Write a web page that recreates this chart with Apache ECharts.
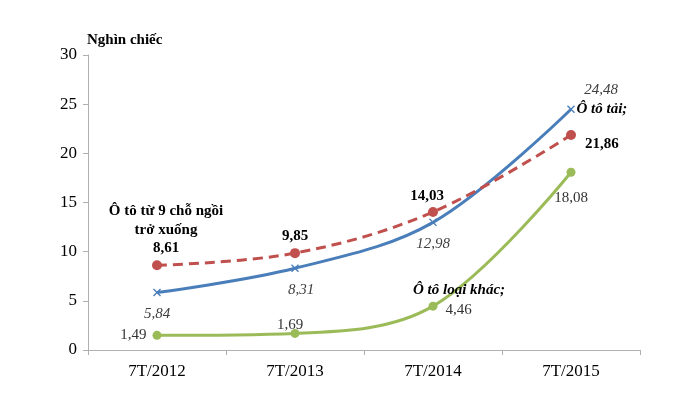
<!DOCTYPE html>
<html><head><meta charset="utf-8">
<script src="https://cdn.jsdelivr.net/npm/echarts@6/dist/echarts.min.js"></script>
<style>html,body{margin:0;padding:0;background:#fff}#c{width:700px;height:393px}</style>
</head><body><div id="c"></div>
<script>
const categories = ['7T/2012', '7T/2013', '7T/2014', '7T/2015'];
const seatCars = [8.61, 9.85, 14.03, 21.86];   // Ô tô từ 9 chỗ ngồi trở xuống
const trucks = [5.84, 8.31, 12.98, 24.48];     // Ô tô tải
const otherCars = [1.49, 1.69, 4.46, 18.08];   // Ô tô loại khác
const yTicks = [0, 5, 10, 15, 20, 25, 30];

const F = '"Liberation Serif", "Times New Roman", serif';
const fmt = v => String(v.toFixed(2)).replace('.', ',');
const crossPath = 'path://M0,1.2L1.2,0L5,3.8L8.8,0L10,1.2L6.2,5L10,8.8L8.8,10L5,6.2L1.2,10L0,8.8L3.8,5Z';

const chart = echarts.init(document.getElementById('c'), null, {renderer: 'canvas'});
chart.setOption({
  animation: false,
  title: {text: 'Nghìn chiếc', left: 82, top: 28,
    textStyle: {fontFamily: F, fontSize: 15, fontWeight: 'bold', color: '#000'}},
  grid: {left: 88, right: 60, top: 55, bottom: 43},
  xAxis: {
    type: 'category', data: categories, boundaryGap: true,
    axisLine: {lineStyle: {color: '#b0b0b0', width: 1}},
    axisTick: {show: true, length: 5, lineStyle: {color: '#b0b0b0'}},
    axisLabel: {fontFamily: F, fontSize: 17, color: '#000', margin: 13}
  },
  yAxis: {
    type: 'value', min: yTicks[0], max: yTicks[yTicks.length - 1], interval: yTicks[1] - yTicks[0],
    axisLine: {show: true, lineStyle: {color: '#b0b0b0', width: 1}},
    axisTick: {show: true, length: 5, lineStyle: {color: '#b0b0b0'}},
    splitLine: {show: false},
    axisLabel: {fontFamily: F, fontSize: 17, color: '#000', margin: 11}
  },
  series: [
    {
      name: 'Ô tô từ 9 chỗ ngồi trở xuống', type: 'line', smooth: 0.35,
      data: seatCars.map((v, i) => {
        const d = {value: v};
        if (i === 0) d.label = {position: 'top', distance: 3, offset: [9, 0],
          formatter: p => '{n|Ô tô từ 9 chỗ ngồi}\n{n|trở xuống}\n{v|' + fmt(p.value) + '}'};
        if (i === 1) d.label = {position: 'top', distance: 5};
        if (i === 2) d.label = {position: 'top', distance: 3, offset: [-6, 0]};
        if (i === 3) d.label = {position: 'right', distance: 5, offset: [4, 9]};
        return d;
      }),
      symbol: 'circle', symbolSize: 10,
      lineStyle: {color: '#c0504d', width: 3, type: [10, 6]},
      itemStyle: {color: '#c0504d'},
      label: {show: true, position: 'top', distance: 5, fontFamily: F, fontSize: 15, fontWeight: 'bold', color: '#000',
        formatter: p => fmt(p.value),
        rich: {
          n: {fontFamily: F, fontSize: 15, fontWeight: 'bold', color: '#000', lineHeight: 19, align: 'center'},
          v: {fontFamily: F, fontSize: 15, fontWeight: 'bold', color: '#000', lineHeight: 18, align: 'center'}
        }},
      z: 3
    },
    {
      name: 'Ô tô tải', type: 'line', smooth: 0.35,
      data: trucks.map((v, i) => {
        const d = {value: v};
        if (i === 1) d.label = {position: 'bottom', distance: 10, offset: [6, 0]};
        if (i === 3) d.label = {position: 'top', offset: [30, -4], distance: 4};
        return d;
      }),
      symbol: crossPath, symbolSize: 8,
      lineStyle: {color: '#4a7ebb', width: 3},
      itemStyle: {color: '#4a7ebb'},
      label: {show: true, position: 'bottom', distance: 10, fontFamily: F, fontSize: 15, fontStyle: 'italic', color: '#404040',
        formatter: p => fmt(p.value)},
      markPoint: {
        symbol: 'circle', symbolSize: 1, itemStyle: {color: 'rgba(0,0,0,0)'},
        label: {show: true, position: 'right', distance: 5, formatter: 'Ô tô tải;',
          fontFamily: F, fontSize: 15, fontStyle: 'italic', fontWeight: 'bold', color: '#000'},
        data: [{coord: [categories[3], trucks[3]]}]
      },
      z: 2
    },
    {
      name: 'Ô tô loại khác', type: 'line', smooth: 0.35,
      data: otherCars.map((v, i) => {
        const d = {value: v};
        if (i === 0) d.label = {position: 'left', distance: 6};
        if (i === 1) d.label = {position: 'top', distance: 0, offset: [-5, 4]};
        if (i === 2) d.label = {position: 'right', distance: 8, offset: [0, 4]};
        if (i === 3) d.label = {position: 'bottom', distance: 14};
        return d;
      }),
      symbol: 'circle', symbolSize: 9,
      lineStyle: {color: '#9bbb59', width: 3},
      itemStyle: {color: '#9bbb59'},
      label: {show: true, fontFamily: F, fontSize: 15, color: '#333', formatter: p => fmt(p.value)},
      markPoint: {
        symbol: 'circle', symbolSize: 1, itemStyle: {color: 'rgba(0,0,0,0)'},
        label: {show: true, position: 'top', distance: 8, offset: [26, 0], formatter: 'Ô tô loại khác;',
          fontFamily: F, fontSize: 15, fontStyle: 'italic', fontWeight: 'bold', color: '#000'},
        data: [{coord: [categories[2], otherCars[2]]}]
      },
      z: 1
    }
  ]
});
</script></body></html>
